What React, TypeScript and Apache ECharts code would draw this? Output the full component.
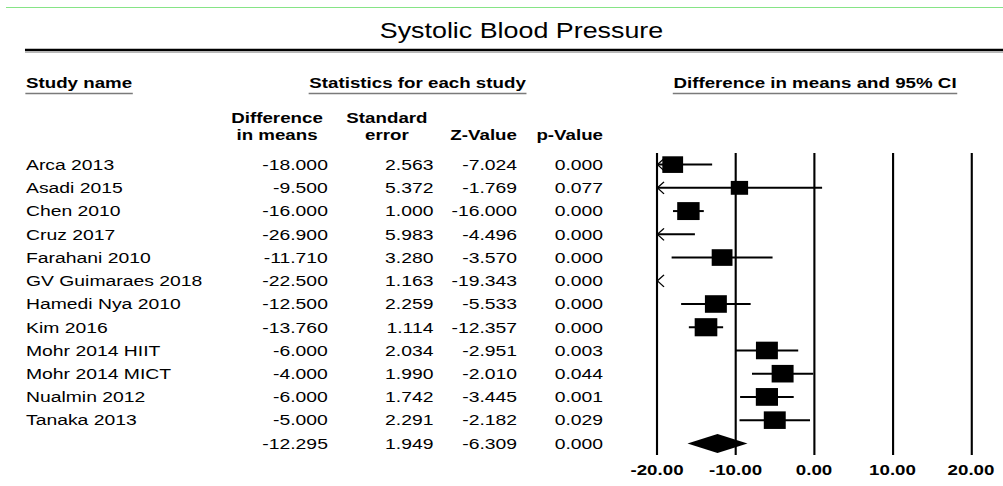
import React, { useEffect, useRef } from "react";
import * as echarts from "echarts";

// ---------- data ----------
const studyNames = [
  "Arca 2013",
  "Asadi 2015",
  "Chen 2010",
  "Cruz 2017",
  "Farahani 2010",
  "GV Guimaraes 2018",
  "Hamedi Nya 2010",
  "Kim 2016",
  "Mohr 2014 HIIT",
  "Mohr 2014 MICT",
  "Nualmin 2012",
  "Tanaka 2013",
  "",
];
const diffInMeans = [-18.0, -9.5, -16.0, -26.9, -11.71, -22.5, -12.5, -13.76, -6.0, -4.0, -6.0, -5.0, -12.295];
const standardErrors = [2.563, 5.372, 1.0, 5.983, 3.28, 1.163, 2.259, 1.114, 2.034, 1.99, 1.742, 2.291, 1.949];
const zValues = [-7.024, -1.769, -16.0, -4.496, -3.57, -19.343, -5.533, -12.357, -2.951, -2.01, -3.445, -2.182, -6.309];
const pValues = [0.0, 0.077, 0.0, 0.0, 0.0, 0.0, 0.0, 0.0, 0.003, 0.044, 0.001, 0.029, 0.0];
const lowerLimits = [-23.023, -20.029, -17.96, -38.627, -18.139, -24.779, -16.928, -15.943, -9.987, -7.9, -9.414, -9.49, -16.115];
const upperLimits = [-12.977, 1.029, -14.04, -15.173, -5.281, -20.221, -8.072, -11.577, -2.013, -0.1, -2.586, -0.51, -8.475];
// relative study weight, shown as box size
const relWeights = [0.9, 0.75, 0.97, 0.7, 0.9, 0.96, 0.95, 0.98, 0.95, 0.95, 0.96, 0.95, 1];
const summaryRow = 12;
const axisMin = -20;
const axisMax = 20;
const axisStep = 10;

const STRETCH = 1003 / 803;
const FONT = "Arial, 'Liberation Sans', Helvetica, sans-serif";

export default function App() {
  const ref = useRef<HTMLDivElement>(null);

  useEffect(() => {
    const chart = echarts.init(ref.current!, null, { renderer: "svg" });
    const ctx = document.createElement("canvas").getContext("2d")!;
    const measure = (text: string, font: string) => {
      ctx.font = font;
      return ctx.measureText(text).width;
    };

    const rowFont = `15.5px ${FONT}`;
    const headFont = `bold 15px ${FONT}`;

    const graphics: any[] = [];
    const addText = (text: string, x: number, y: number, font: string, align: string, underline = false) => {
      graphics.push({
        type: "text",
        x,
        y,
        style: { text, font, fill: "#000", align, textAlign: align, verticalAlign: "middle", textVerticalAlign: "middle" },
      });
      if (underline) {
        const w = measure(text, font);
        const left = align === "left" ? x : align === "center" ? x - w / 2 : x - w;
        graphics.push({
          type: "line",
          shape: { x1: left - 0.5, y1: y + 10.5, x2: left + w + 0.5, y2: y + 10.5 },
          style: { stroke: "#7a7a7a", lineWidth: 1.6 },
        });
      }
    };

    // frame lines
    graphics.push({ type: "line", shape: { x1: 4.8, y1: 7.5, x2: 803, y2: 7.5 }, style: { stroke: "#86e486", lineWidth: 1 } });
    graphics.push({ type: "line", shape: { x1: 20, y1: 50, x2: 803, y2: 50 }, style: { stroke: "#000", lineWidth: 2.4 } });
    graphics.push({ type: "line", shape: { x1: 20, y1: 52.3, x2: 803, y2: 52.3 }, style: { stroke: "#a0a0a0", lineWidth: 1 } });

    addText("Systolic Blood Pressure", 417.5, 30.5, `21.5px ${FONT}`, "center");
    addText("Study name", 20.8, 83, headFont, "left", true);
    addText("Statistics for each study", 334.3, 83, headFont, "center", true);
    addText("Difference in means and 95% CI", 652.5, 83, headFont, "center", true);
    addText("Difference", 221.8, 118, headFont, "center");
    addText("in means", 221.8, 135, headFont, "center");
    addText("Standard", 309.8, 118, headFont, "center");
    addText("error", 309.8, 135, headFont, "center");
    addText("Z-Value", 413.9, 135, headFont, "right");
    addText("p-Value", 482.8, 135, headFont, "right");

    const tableData = studyNames.map((_, i) => [i, diffInMeans[i], standardErrors[i], zValues[i], pValues[i]]);
    const forestData = studyNames.map((_, i) => [i, diffInMeans[i], lowerLimits[i], upperLimits[i], relWeights[i]]);

    const colRight = [262.5, 347, 414, 482.8];

    const option: any = {
      animation: false,
      backgroundColor: "#fff",
      grid: { left: 526, right: 25.6, top: 153, bottom: 31, containLabel: false },
      xAxis: {
        type: "value",
        min: axisMin,
        max: axisMax,
        interval: axisStep,
        axisLine: { show: false },
        axisTick: { show: false },
        splitLine: { show: true, lineStyle: { color: "#000", width: 1.7 } },
        axisLabel: {
          margin: 8,
          color: "#000",
          fontWeight: "bold",
          fontSize: 15,
          fontFamily: FONT,
          formatter: (v: number) => v.toFixed(2),
        },
      },
      yAxis: {
        type: "category",
        inverse: true,
        data: studyNames,
        axisLine: { show: false },
        axisTick: { show: false },
        splitLine: { show: false },
        axisLabel: {
          interval: 0,
          align: "left",
          margin: 505.2,
          color: "#000",
          fontSize: 15.5,
          fontFamily: FONT,
        },
      },
      graphic: { elements: graphics },
      series: [
        {
          type: "custom",
          name: "table",
          data: tableData,
          encode: { x: 1, y: 0 },
          clip: false,
          silent: true,
          renderItem: (params: any, api: any) => {
            const row = api.value(0);
            const y = api.coord([0, row])[1];
            const vals = [api.value(1), api.value(2), api.value(3), api.value(4)];
            return {
              type: "group",
              children: vals.map((v: number, k: number) => ({
                type: "text",
                x: colRight[k],
                y,
                style: {
                  text: v.toFixed(3),
                  font: rowFont,
                  fill: "#000",
                  align: "right",
                  verticalAlign: "middle",
                },
              })),
            };
          },
        },
        {
          type: "custom",
          name: "forest",
          data: forestData,
          encode: { x: [1, 2, 3], y: 0 },
          clip: false,
          silent: true,
          renderItem: (params: any, api: any) => {
            const row = api.value(0);
            const d = api.value(1);
            const lo = api.value(2);
            const hi = api.value(3);
            const w = api.value(4);
            const X = (v: number) => api.coord([v, row])[0];
            const y = api.coord([0, row])[1];
            const children: any[] = [];
            if (row === summaryRow) {
              children.push({
                type: "polygon",
                shape: {
                  points: [
                    [X(lo), y],
                    [X(d), y - 9.5],
                    [X(hi), y],
                    [X(d), y + 9.5],
                  ],
                },
                style: { fill: "#000" },
              });
              return { type: "group", children };
            }
            const a = Math.max(lo, axisMin);
            const b = Math.min(hi, axisMax);
            if (b > a) {
              children.push({
                type: "line",
                shape: { x1: X(a), y1: y, x2: X(b), y2: y },
                style: { stroke: "#000", lineWidth: 2 },
              });
            }
            if (lo < axisMin) {
              const xa = X(axisMin);
              children.push({
                type: "polyline",
                shape: { points: [[xa + 5.6, y - 6], [xa + 0.3, y], [xa + 5.6, y + 6]] },
                style: { stroke: "#000", lineWidth: 1.1, fill: null },
              });
            }
            if (hi > axisMax) {
              const xb = X(axisMax);
              children.push({
                type: "polyline",
                shape: { points: [[xb - 5.6, y - 6], [xb - 0.3, y], [xb - 5.6, y + 6]] },
                style: { stroke: "#000", lineWidth: 1.1, fill: null },
              });
            }
            if (d >= axisMin && d <= axisMax) {
              const s = 18.5 * w;
              children.push({
                type: "rect",
                shape: { x: X(d) - s / 2, y: y - s / 2, width: s, height: s },
                style: { fill: "#000" },
              });
            }
            return { type: "group", children };
          },
        },
      ],
    };

    chart.setOption(option);
    return () => chart.dispose();
  }, []);

  return (
    <div
      style={{
        position: "fixed",
        left: 0,
        top: 0,
        width: 1003,
        height: 486,
        overflow: "hidden",
        background: "#fff",
      }}
    >
      <div
        ref={ref}
        style={{
          width: 803,
          height: 486,
          transform: `scaleX(${STRETCH})`,
          transformOrigin: "0 0",
        }}
      />
    </div>
  );
}
